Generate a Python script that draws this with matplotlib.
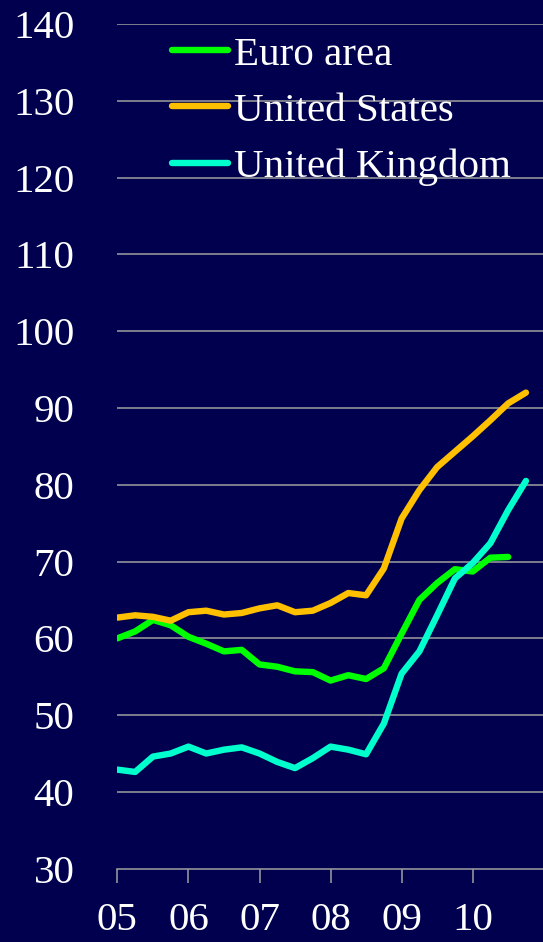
import matplotlib
matplotlib.use("Agg")
import matplotlib.pyplot as plt
import numpy as np

# Quarterly data, 2005Q1 onwards
quarters = 2005 + np.arange(24) / 4.0

euro_area = [60.0, 60.9, 62.4, 61.7, 60.2, 59.3, 58.3, 58.5, 56.6, 56.3, 55.7, 55.6,
             54.5, 55.2, 54.7, 56.1, 60.6, 65.0, 67.2, 69.0, 68.7, 70.5, 70.6]
united_states = [62.7, 63.0, 62.8, 62.3, 63.4, 63.6, 63.1, 63.3, 63.9, 64.3, 63.4, 63.6,
                 64.6, 65.9, 65.6, 69.1, 75.6, 79.3, 82.3, 84.3, 86.3, 88.4, 90.6, 92.0]
united_kingdom = [42.9, 42.6, 44.6, 45.0, 45.9, 45.0, 45.5, 45.8, 45.0, 43.9, 43.1, 44.4,
                  45.9, 45.5, 44.9, 48.9, 55.4, 58.3, 63.0, 67.8, 69.8, 72.4, 76.7, 80.5]

series_names = ["Euro area", "United States", "United Kingdom"]
series_colors = ["#00FF00", "#FFC000", "#00FFCC"]

year_ticks = [2005, 2006, 2007, 2008, 2009, 2010]
year_labels = ["05", "06", "07", "08", "09", "10"]
y_ticks = list(range(30, 141, 10))

bg = "#00004F"
grid_col = "#A0A0A0"

fig = plt.figure(figsize=(5.43, 9.42), dpi=100, facecolor=bg)
ax = fig.add_axes([117.4 / 543, 1 - 868.7 / 942, 1 - 117.4 / 543, (868.7 - 24) / 942])
ax.set_facecolor(bg)

for vals, name, col in zip([euro_area, united_states, united_kingdom], series_names, series_colors):
    ax.plot(quarters[:len(vals)], vals, color=col, lw=4.6, label=name,
            solid_capstyle="round", solid_joinstyle="round", zorder=3)

ax.set_ylim(30, 140)
ax.set_xlim(2005, 2005 + 23.96 / 4)
ax.set_yticks(y_ticks)
ax.set_xticks(year_ticks)
ax.set_xticklabels(year_labels)

for v in y_ticks[1:]:
    ax.axhline(v, color=grid_col, lw=1.1, zorder=1)

for s in ["top", "right", "left"]:
    ax.spines[s].set_visible(False)
ax.spines["bottom"].set_color(grid_col)
ax.spines["bottom"].set_linewidth(1.1)

font = "Liberation Serif"
ax.tick_params(axis="y", length=0, pad=31, labelsize=29.5, labelcolor="white")
ax.tick_params(axis="x", length=10, width=1.1, color=grid_col, direction="out",
               pad=14, labelsize=29.5, labelcolor="white")
for lab in ax.get_xticklabels() + ax.get_yticklabels():
    lab.set_fontfamily(font)

leg = ax.legend(loc="upper left", bbox_to_anchor=(172 / 543, 1 - 36 / 942),
                bbox_transform=fig.transFigure, frameon=False,
                prop={"family": font, "size": 29.5}, handlelength=1.37,
                handletextpad=0.15, labelspacing=0.45, borderpad=0, borderaxespad=0)
for t in leg.get_texts():
    t.set_color("white")
for h in leg.get_lines():
    h.set_solid_capstyle("round")
leg.set_zorder(5)

fig.savefig("out.png", dpi=100, facecolor=bg)
